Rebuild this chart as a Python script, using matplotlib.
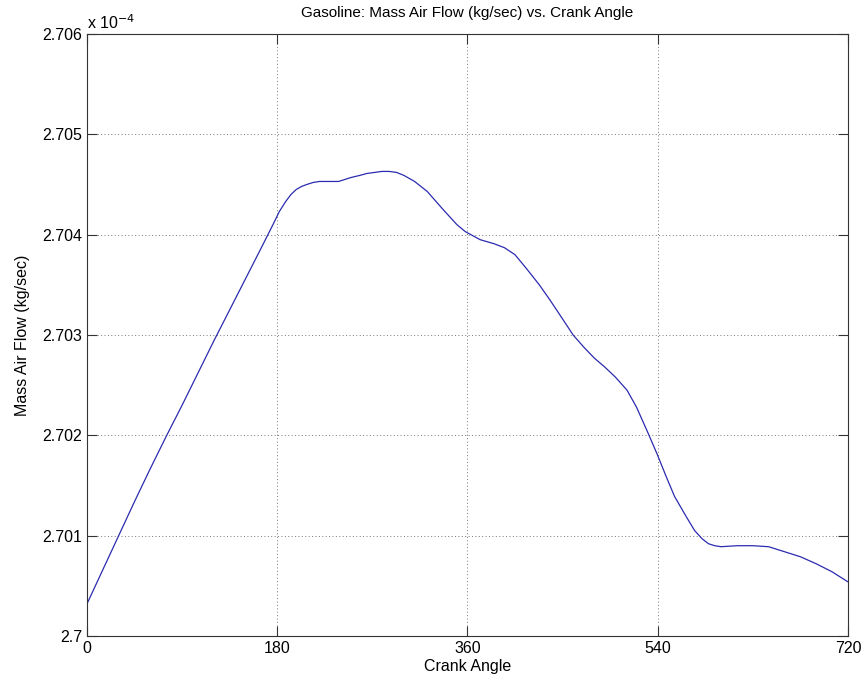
import matplotlib.pyplot as plt
from matplotlib.ticker import FuncFormatter

plt.rcParams["font.family"] = ["Liberation Sans", "DejaVu Sans"]

# mass air flow in units of 1e-4 kg/sec
crank_angle = [0, 15, 30, 45, 60, 75, 90, 105, 120, 135, 150, 165, 176, 182, 188,
               193, 198, 203, 208, 214, 220, 230, 238, 244, 250, 258, 265, 272, 279,
               286, 293, 300, 310, 322, 337, 350, 358, 365, 372, 385, 395, 405, 416,
               428, 438, 450, 460, 470, 480, 490, 500, 511, 520, 531, 540, 548, 556,
               567, 575, 582, 588, 594, 600, 615, 630, 645, 660, 675, 690, 705, 720]
mass_air_flow = [2.70032, 2.70066, 2.70100, 2.70134, 2.70167, 2.70199, 2.70230,
                 2.70262, 2.70294, 2.70325, 2.70356, 2.70387, 2.70410, 2.70423,
                 2.70433, 2.70440, 2.70445, 2.70448, 2.70450, 2.70452, 2.70453,
                 2.70453, 2.70453, 2.70455, 2.70457, 2.70459, 2.70461, 2.70462,
                 2.70463, 2.70463, 2.70462, 2.70459, 2.70453, 2.70443, 2.70425,
                 2.70410, 2.70403, 2.70399, 2.70395, 2.70391, 2.70387, 2.70380,
                 2.70366, 2.70350, 2.70335, 2.70316, 2.70300, 2.70288, 2.70277,
                 2.70268, 2.70258, 2.70245, 2.70228, 2.70202, 2.70180, 2.70159,
                 2.70139, 2.70119, 2.70105, 2.70097, 2.70092, 2.70090, 2.70089,
                 2.70090, 2.70090, 2.70089, 2.70084, 2.70079, 2.70072, 2.70064,
                 2.70054]
x_ticks = [0, 180, 360, 540, 720]
y_ticks = [2.700, 2.701, 2.702, 2.703, 2.704, 2.705, 2.706]

fig = plt.figure(figsize=(8.67, 6.89), dpi=100)
ax = fig.add_axes([0.1003, 0.0769, 0.8777, 0.8738])

ax.plot(crank_angle, mass_air_flow, color="#2b2bb0", linewidth=0.9)

ax.set_xlim(0, 720)
ax.set_ylim(2.700, 2.706)
ax.set_xticks(x_ticks)
ax.set_yticks(y_ticks)
ax.yaxis.set_major_formatter(FuncFormatter(lambda v, p: f"{v:g}"))
ax.tick_params(direction="in", length=7, width=0.8, labelsize=11.5,
               top=True, right=True, color="#333333")
for s in ax.spines.values():
    s.set_color("#333333")
    s.set_linewidth(0.8)
ax.grid(True, linestyle=(0, (1, 2.5)), color="#777777", linewidth=0.7)

ax.set_title("Gasoline: Mass Air Flow (kg/sec) vs. Crank Angle", fontsize=11, pad=12)
ax.set_xlabel("Crank Angle", fontsize=11.5, labelpad=2)
ax.set_ylabel("Mass Air Flow (kg/sec)", fontsize=11.5, labelpad=9)
ax.text(0.0, 1.004, r"x 10$^{-4}$", transform=ax.transAxes, fontsize=11.5,
        ha="left", va="bottom")

fig.savefig("out.png", dpi=100)
